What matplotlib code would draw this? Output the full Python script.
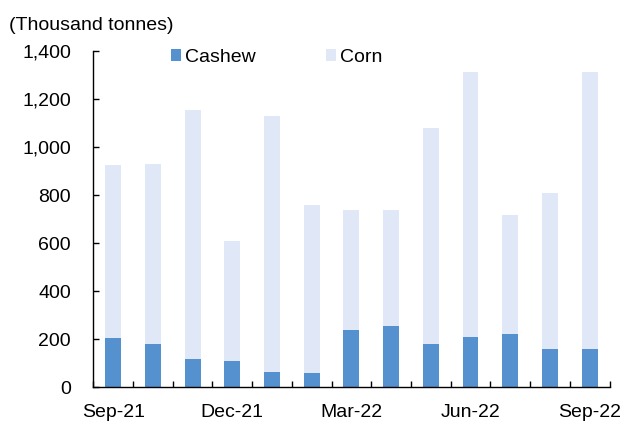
import matplotlib
matplotlib.use("Agg")
import matplotlib.pyplot as plt
import numpy as np

months = ["Sep-21", "Oct-21", "Nov-21", "Dec-21", "Jan-22", "Feb-22", "Mar-22",
          "Apr-22", "May-22", "Jun-22", "Jul-22", "Aug-22", "Sep-22"]
cashew = [205, 181, 116, 109, 65, 61, 239, 255, 181, 210, 221, 160, 160]
total = [927, 928, 1153, 609, 1128, 757, 738, 738, 1081, 1311, 717, 809, 1311]
corn = [t - c for t, c in zip(total, cashew)]
shown_labels = ["Sep-21", "Dec-21", "Mar-22", "Jun-22", "Sep-22"]
yticks = [0, 200, 400, 600, 800, 1000, 1200, 1400]

plt.rcParams['font.family'] = ['Liberation Sans', 'DejaVu Sans']
fs = 14

fig = plt.figure(figsize=(6.23, 4.21), dpi=100)
ax = fig.add_axes([93.3 / 623, 1 - 387.3 / 421, (609.5 - 93.3) / 623, (387.3 - 51) / 421])

x = np.arange(len(months))
w = 0.40
ax.bar(x, cashew, width=w, color='#5591CE', label='Cashew', zorder=2)
ax.bar(x, corn, width=w, bottom=cashew, color='#E0E7F6', label='Corn', zorder=2)

ax.set_xlim(-0.5, len(months) - 0.5)
ax.set_ylim(0, 1400)
ax.set_yticks(yticks)
ax.set_yticklabels([f"{v:,}" for v in yticks], fontsize=fs)

# category boundary ticks
ax.set_xticks(np.arange(len(months) + 1) - 0.5)
ax.set_xticklabels([])
ax.tick_params(axis='x', direction='in', length=4, width=1, color='black')
ax.tick_params(axis='y', direction='in', length=4.5, width=1, color='black', pad=16)
for i, m in enumerate(months):
    if m in shown_labels:
        ax.annotate(m, xy=(i, 0), xycoords=('data', 'axes fraction'),
                    xytext=(0, -21.4), textcoords='offset points',
                    ha='center', va='baseline', fontsize=fs, annotation_clip=False)

for s in ['top', 'right']:
    ax.spines[s].set_visible(False)
for s in ['left', 'bottom']:
    ax.spines[s].set_color('black')
    ax.spines[s].set_linewidth(1)

fig.text(9 / 623, 1 - 29.5 / 421, "(Thousand tonnes)", fontsize=fs, ha='left', va='baseline')

leg = ax.legend(loc='center left', bbox_to_anchor=(170.5 / 623, 1 - 57.5 / 421),
                bbox_transform=fig.transFigure, ncol=2, frameon=False, fontsize=fs,
                handlelength=0.54, handleheight=0.54, handletextpad=0.2,
                columnspacing=3.6, borderpad=0, borderaxespad=0)

fig.savefig("out.png", dpi=100)
